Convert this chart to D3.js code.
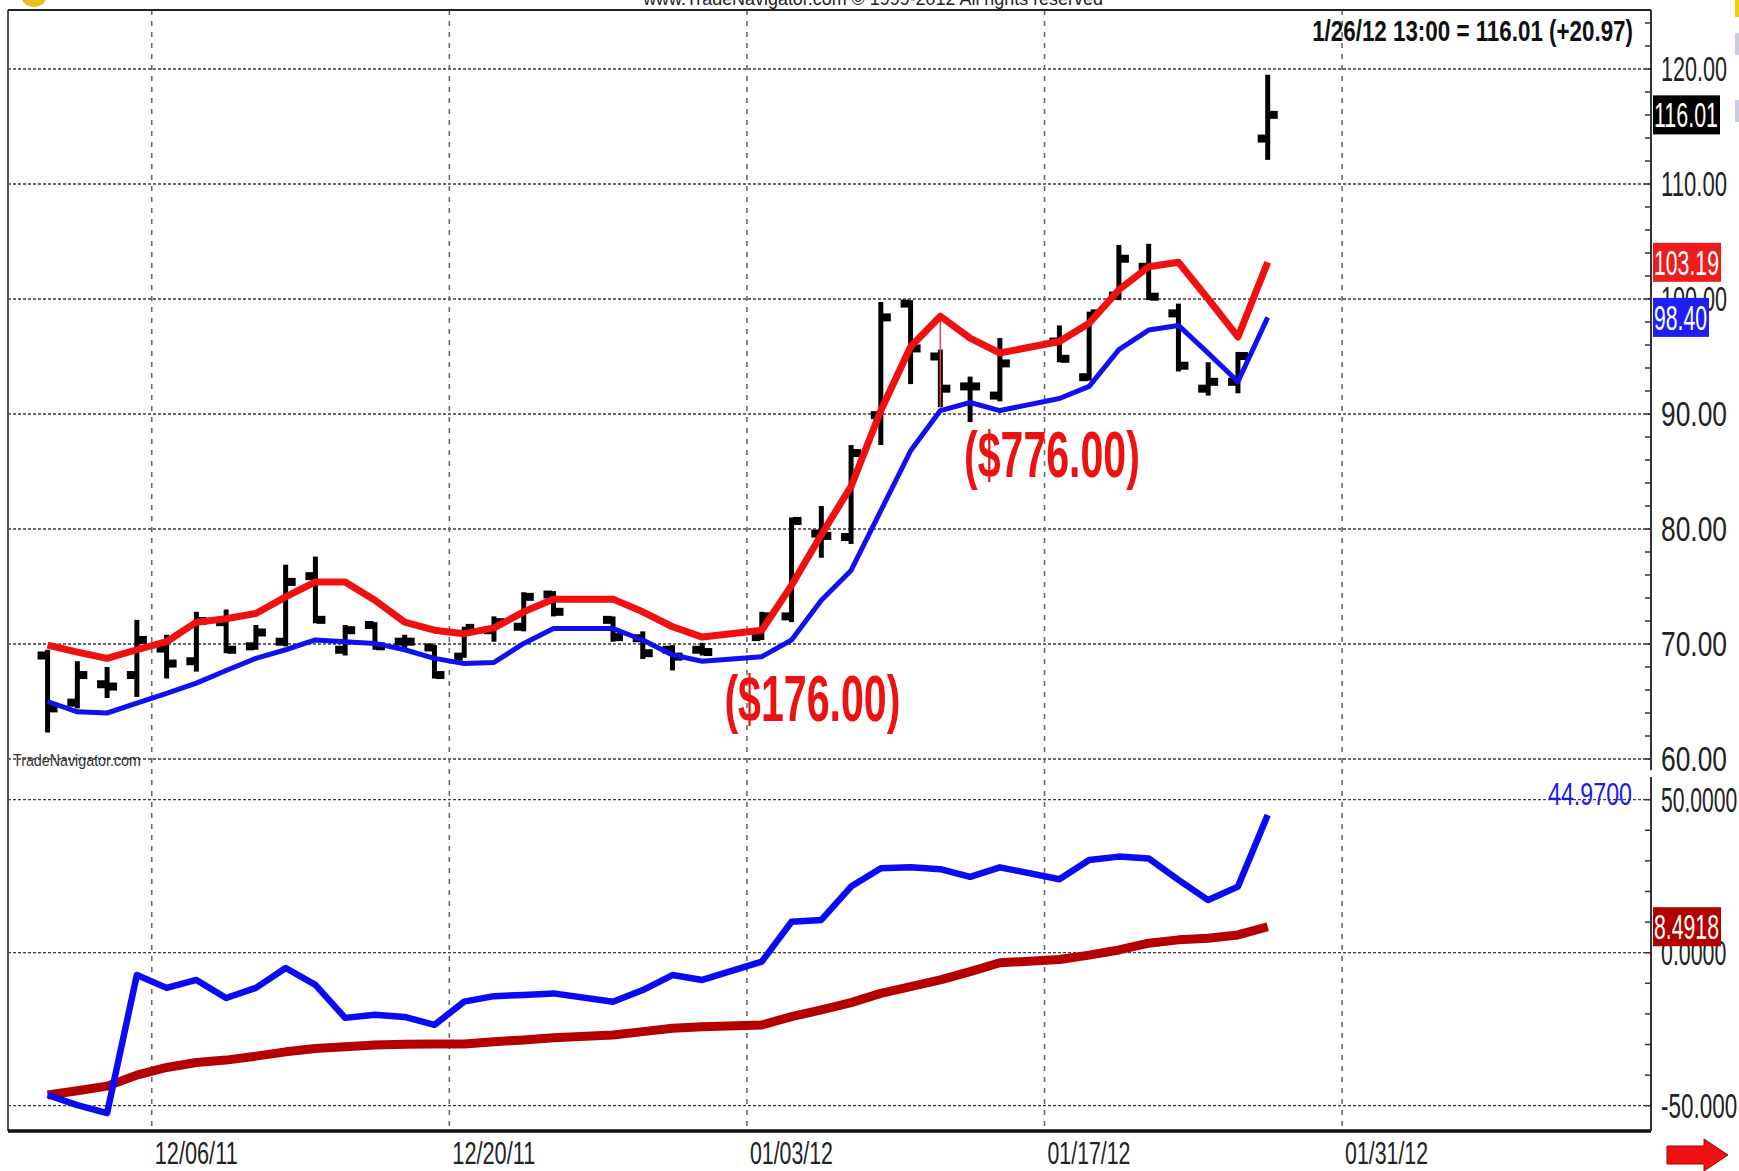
<!DOCTYPE html>
<html>
<head>
<meta charset="utf-8">
<script src="https://cdn.jsdelivr.net/npm/d3@7"></script>
<style>
body{margin:0;background:#fff;overflow:hidden;}
svg{display:block;}
</style>
</head>
<body>
<script>

// trading days (holidays 12/26, 1/2, 1/16 have no bar)
var dates = ['11/30/11','12/01/11','12/02/11','12/05/11','12/06/11','12/07/11','12/08/11','12/09/11',
	'12/12/11','12/13/11','12/14/11','12/15/11','12/16/11','12/19/11','12/20/11','12/21/11','12/22/11','12/23/11',
	'12/27/11','12/28/11','12/29/11','12/30/11','01/03/12','01/04/12','01/05/12','01/06/12',
	'01/09/12','01/10/12','01/11/12','01/12/12','01/13/12','01/17/12','01/18/12','01/19/12','01/20/12',
	'01/23/12','01/24/12','01/25/12','01/26/12'];

var open  = [69.0,64.9,66.5,67.3,69.6,68.5,71.9,69.8,70.2,75.9,69.5,71.65,70.2,69.7,68.9,71.2,71.5,74.3,
	72.1,70.5,69.5,69.5,70.6,72.4,79.6,79.3,89.9,99.6,95.0,92.4,91.6,96.3,93.2,100.3,102.8,98.75,92.2,92.8,113.95];
var high  = [69.5,68.5,68.0,72.1,70.8,72.8,73.0,71.65,76.9,77.6,71.65,71.9,70.8,69.9,71.5,72.4,74.5,74.6,
	72.4,71.1,69.9,70.1,72.8,81.0,82.0,87.3,99.75,99.9,95.6,93.25,96.6,97.7,98.9,104.7,104.8,99.6,94.5,95.4,119.5];
var low   = [62.3,64.4,65.3,65.4,67.0,67.6,69.2,69.5,69.8,71.8,69.0,69.5,69.6,67.0,68.8,70.2,71.1,72.4,
	70.2,68.7,67.7,69.0,70.35,71.9,77.5,78.7,87.3,92.6,90.6,89.3,91.1,94.5,92.9,99.9,99.9,93.7,91.6,91.8,112.1];
var close = [64.4,67.3,66.3,70.35,68.3,72.0,69.5,71.0,75.4,72.1,71.2,69.8,70.2,67.3,71.4,71.9,74.1,72.8,
	70.6,69.2,68.9,69.3,72.4,80.7,79.4,86.6,98.4,95.7,92.2,92.4,94.4,94.8,98.75,103.5,100.2,94.2,92.8,95.04,116.01];

var upperBand = [69.9,69.3,68.75,69.5,70.2,71.9,72.2,72.65,74.1,75.4,75.4,73.8,71.9,71.2,70.9,71.4,72.8,73.9,
	73.9,72.8,71.5,70.6,71.2,75.1,79.5,83.7,90.3,95.85,98.5,96.6,95.3,96.3,97.9,100.8,102.8,103.2,100.0,96.7,103.19];
var lowerBand = [65.0,64.1,64.0,64.85,65.7,66.6,67.7,68.75,69.5,70.35,70.2,70.05,69.5,68.75,68.3,68.4,70.05,71.35,
	71.35,70.35,69.05,68.5,68.9,70.35,73.8,76.4,81.6,86.8,90.3,91.0,90.3,91.35,92.4,95.6,97.3,97.7,95.3,92.8,98.40];

var oscFast = [-46.5,-49.8,-52.4,-7.3,-11.5,-8.9,-14.8,-11.5,-5.0,-10.5,-21.3,-20.3,-21.0,-23.6,-16.0,-14.2,-13.8,-13.3,
	-16.0,-12.2,-7.3,-8.9,-2.9,10.1,10.7,21.6,27.6,27.9,27.3,24.8,27.9,24.0,30.3,31.4,30.8,23.8,17.2,21.6,44.97];
var oscSlow = [-46.5,-45.1,-43.6,-40.0,-37.5,-35.9,-35.1,-33.8,-32.4,-31.3,-30.7,-30.2,-29.9,-29.8,-29.8,-29.1,-28.5,-27.8,
	-26.9,-25.8,-24.7,-24.2,-23.6,-20.9,-18.7,-16.3,-13.3,-11.1,-8.9,-6.2,-3.3,-2.2,-0.8,0.9,3.1,4.2,4.7,5.8,8.4918];

var dateTicks = ['12/06/11','12/20/11','01/03/12','01/17/12','01/31/12'];
var priceTicks = [60,70,80,90,100,110,120];
var oscTicks = [-50,0,50];
var oscTickText = ['-50.000','0.0000','50.0000'];

var notes = ['($176.00)','($776.00)'];
var noteSlot = [21.7,29.75];
var notePrice = [63.3,84.5];

var header = '1/26/12 13:00 = 116.01 (+20.97)';
var watermark = 'www.TradeNavigator.com \u00a9 1999-2012 All rights reserved';


var W = 1739, H = 1171;
var narrow = '"Liberation Sans Narrow","Arial Narrow","Liberation Sans",Arial,sans-serif';

var parseDate = d3.timeParse('%m/%d/%y');
var base = parseDate('12/06/11');

// weekday slot relative to 12/06/11
function slot(s){
	var d = parseDate(s), n = 0;
	if (d >= base){
		d3.timeDay.range(base, d).forEach(function(t){ if (t.getDay()%6 !== 0) n++; });
	} else {
		d3.timeDay.range(d, base).forEach(function(t){ if (t.getDay()%6 !== 0) n--; });
	}
	return n;
}

// squeeze text horizontally to a target width (the original uses a narrow font)
function squeeze(sel, w){
	sel.each(function(d,i){
		var t = d3.select(this);
		var x = +t.attr('x'), y = +t.attr('y');
		var target = (typeof w === 'function') ? w(d,i) : w;
		var s = target / this.getComputedTextLength();
		t.attr('x',0).attr('y',0)
			.attr('transform','translate('+x+','+y+') scale('+s+',1)');
	});
}

var data = dates.map(function(d,i){
	return {k:slot(d), o:open[i], h:high[i], l:low[i], c:close[i],
		up:upperBand[i], dn:lowerBand[i], fast:oscFast[i], slow:oscSlow[i]};
});

var frame = {l:8, r:1651, t:10, b:1131, split1:770, split2:777};
var labelX = 1661;

var scaleX = d3.scaleLinear().domain([-5.33,49.88]).range([frame.l, frame.r]);
var scaleP = d3.scaleLinear().domain([60,120]).range([759,69]);
var scaleO = d3.scaleLinear().domain([-50,50]).range([1105.7,799.7]);

var svg = d3.select('body').append('svg')
	.attr('width',W)
	.attr('height',H);

svg.append('rect').attr('width',W).attr('height',H).attr('fill','#fff');

// horizontal grid
svg.selectAll('.hgrid')
	.data(priceTicks.map(scaleP).concat(oscTicks.map(scaleO)))
	.enter()
	.append('line')
	.attr('class','hgrid')
	.attr('x1',frame.l).attr('x2',frame.r)
	.attr('y1',function(d){return d}).attr('y2',function(d){return d})
	.attr('stroke','#3a3a3a')
	.attr('stroke-width',1.3)
	.attr('stroke-dasharray','3,2');

// vertical grid
svg.selectAll('.vgrid')
	.data(dateTicks)
	.enter()
	.append('line')
	.attr('class','vgrid')
	.attr('x1',function(d){return scaleX(slot(d)-0.5)})
	.attr('x2',function(d){return scaleX(slot(d)-0.5)})
	.attr('y1',frame.t).attr('y2',frame.b)
	.attr('stroke','#6a6a6a')
	.attr('stroke-width',1.6)
	.attr('stroke-dasharray','5,6');

// frame
svg.append('line').attr('x1',frame.l).attr('x2',frame.l).attr('y1',frame.t).attr('y2',frame.b)
	.attr('stroke','#555').attr('stroke-width',2);
svg.append('line').attr('x1',frame.l).attr('x2',frame.r).attr('y1',frame.t).attr('y2',frame.t)
	.attr('stroke','#222').attr('stroke-width',2);
svg.append('line').attr('x1',frame.l).attr('x2',frame.r).attr('y1',frame.b).attr('y2',frame.b)
	.attr('stroke','#111').attr('stroke-width',3.5);
svg.append('line').attr('x1',frame.r).attr('x2',frame.r).attr('y1',frame.t).attr('y2',frame.split1)
	.attr('stroke','#333').attr('stroke-width',2);
svg.append('line').attr('x1',frame.r).attr('x2',frame.r).attr('y1',frame.split2).attr('y2',frame.b)
	.attr('stroke','#333').attr('stroke-width',2);

// minor ticks on right axis
svg.selectAll('.ptick')
	.data(d3.range(60,125,2))
	.enter()
	.append('line')
	.attr('x1',frame.r-6).attr('x2',frame.r)
	.attr('y1',function(d){return scaleP(d)}).attr('y2',function(d){return scaleP(d)})
	.attr('stroke','#333').attr('stroke-width',1.5);
svg.selectAll('.otick')
	.data(d3.range(-50,51,10))
	.enter()
	.append('line')
	.attr('x1',frame.r-6).attr('x2',frame.r)
	.attr('y1',function(d){return scaleO(d)}).attr('y2',function(d){return scaleO(d)})
	.attr('stroke','#333').attr('stroke-width',1.5);

// axis labels
svg.selectAll('.plabel')
	.data(priceTicks)
	.enter()
	.append('text')
	.attr('x',labelX)
	.attr('y',function(d){return scaleP(d)+12})
	.attr('font-family',narrow).attr('font-size',35).attr('fill','#222')
	.text(function(d){return d3.format('.2f')(d)})
	.call(squeeze,66);

// lower labels run into the window edge like the original
svg.selectAll('.olabel')
	.data(oscTicks)
	.enter()
	.append('text')
	.attr('x',labelX)
	.attr('y',function(d){return scaleO(d)+12})
	.attr('font-family',narrow).attr('font-size',35).attr('fill','#222')
	.text(function(d,i){return oscTickText[i]})
	.call(squeeze,function(d,i){return oscTickText[i].length*10.9});

// date labels
svg.selectAll('.dlabel')
	.data(dateTicks)
	.enter()
	.append('text')
	.attr('x',function(d){return scaleX(slot(d)-0.5)+3})
	.attr('y',1164)
	.attr('font-family',narrow).attr('font-size',31).attr('fill','#222')
	.text(function(d){return d})
	.call(squeeze,83);

// price bars
var bars = svg.selectAll('.bar')
	.data(data)
	.enter()
	.append('g')
	.attr('class','bar');

bars.append('line')
	.attr('x1',function(d){return scaleX(d.k)}).attr('x2',function(d){return scaleX(d.k)})
	.attr('y1',function(d){return scaleP(d.h)}).attr('y2',function(d){return scaleP(d.l)})
	.attr('stroke','#000').attr('stroke-width',5);
bars.append('rect')
	.attr('x',function(d){return scaleX(d.k)-10})
	.attr('y',function(d){return scaleP(d.o)-4})
	.attr('width',8.5).attr('height',8).attr('fill','#000');
bars.append('rect')
	.attr('x',function(d){return scaleX(d.k)+1.5})
	.attr('y',function(d){return scaleP(d.c)-4})
	.attr('width',8.5).attr('height',8).attr('fill','#000');

// entry marker between the bands
var mark = data[28];
svg.append('line')
	.attr('x1',scaleX(mark.k)).attr('x2',scaleX(mark.k))
	.attr('y1',scaleP(mark.up)).attr('y2',scaleP(mark.dn))
	.attr('stroke','#e84040').attr('stroke-width',1.5);

var bandLine = function(key, sy){
	return d3.line()
		.x(function(d){return scaleX(d.k)})
		.y(function(d){return sy(d[key])});
};

svg.append('path').datum(data).attr('d',bandLine('up',scaleP))
	.attr('fill','none').attr('stroke','#f01010').attr('stroke-width',7)
	.attr('stroke-linejoin','round');
svg.append('path').datum(data).attr('d',bandLine('dn',scaleP))
	.attr('fill','none').attr('stroke','#1010f0').attr('stroke-width',5)
	.attr('stroke-linejoin','round');

svg.append('path').datum(data).attr('d',bandLine('slow',scaleO))
	.attr('fill','none').attr('stroke','#b40000').attr('stroke-width',9)
	.attr('stroke-linejoin','round');
svg.append('path').datum(data).attr('d',bandLine('fast',scaleO))
	.attr('fill','none').attr('stroke','#0a0af5').attr('stroke-width',6.5)
	.attr('stroke-linejoin','round');

// last-value boxes
var last = data[data.length-1];
var boxes = [
	{y:scaleP(last.c), w:67, fill:'#000', txt:d3.format('.2f')(last.c)},
	{y:scaleP(last.up), w:68, fill:'#ee1c1c', txt:d3.format('.2f')(last.up)},
	{y:scaleP(last.dn), w:56, fill:'#1f1ff5', txt:d3.format('.2f')(last.dn)},
	{y:scaleO(last.slow), w:68, fill:'#b00000', txt:d3.format('.4f')(last.slow)}
];
var bx = svg.selectAll('.box').data(boxes).enter().append('g');
bx.append('rect')
	.attr('x',frame.r+2).attr('y',function(d){return d.y-19.5})
	.attr('width',function(d){return d.w}).attr('height',39)
	.attr('fill',function(d){return d.fill});
bx.append('text')
	.attr('x',frame.r+3).attr('y',function(d){return d.y+12.5})
	.attr('font-family',narrow).attr('font-size',35).attr('fill','#fff')
	.text(function(d){return d.txt})
	.call(squeeze,function(d){return d.w-3});

// fast oscillator value
svg.append('text')
	.attr('x',1632).attr('y',805)
	.attr('text-anchor','end')
	.attr('font-family',narrow).attr('font-size',32).attr('fill','#1a1af0')
	.text(d3.format('.4f')(last.fast))
	.call(squeeze,84);

// trade results
svg.selectAll('.note')
	.data(notes)
	.enter()
	.append('text')
	.attr('x',function(d,i){return scaleX(noteSlot[i])})
	.attr('y',function(d,i){return scaleP(notePrice[i])})
	.attr('text-anchor','middle')
	.attr('font-family',narrow).attr('font-size',64).attr('font-weight','bold')
	.attr('fill','#ee1111')
	.text(function(d){return d})
	.call(squeeze,176);

// header + branding
svg.append('text')
	.attr('x',1633).attr('y',41)
	.attr('text-anchor','end')
	.attr('font-family',narrow).attr('font-size',30).attr('font-weight','bold').attr('fill','#111')
	.text(header)
	.call(squeeze,321);

svg.append('text')
	.attr('x',873).attr('y',5)
	.attr('text-anchor','middle')
	.attr('font-family',narrow).attr('font-size',18).attr('fill','#222')
	.text(watermark)
	.call(squeeze,460);

svg.append('text')
	.attr('x',13).attr('y',766)
	.attr('font-family',narrow).attr('font-size',17).attr('fill','#333')
	.text('TradeNavigator.com')
	.call(squeeze,128);

// little ui bits at the edges
svg.append('ellipse').attr('cx',34).attr('cy',-2).attr('rx',12).attr('ry',9).attr('fill','#e6bf22');
svg.append('rect').attr('x',1735).attr('y',0).attr('width',4).attr('height',17).attr('fill','#f0d000');
svg.selectAll('.tab').data([33,100]).enter().append('rect')
	.attr('x',1735).attr('y',function(d){return d}).attr('width',4).attr('height',22).attr('fill','#c8cce8');

svg.append('polygon')
	.attr('points','1667,1146 1704,1146 1704,1139 1728,1155 1704,1171 1704,1164 1667,1164')
	.attr('fill','#ee1111').attr('stroke','#a00').attr('stroke-width',1);

</script>
</body>
</html>
